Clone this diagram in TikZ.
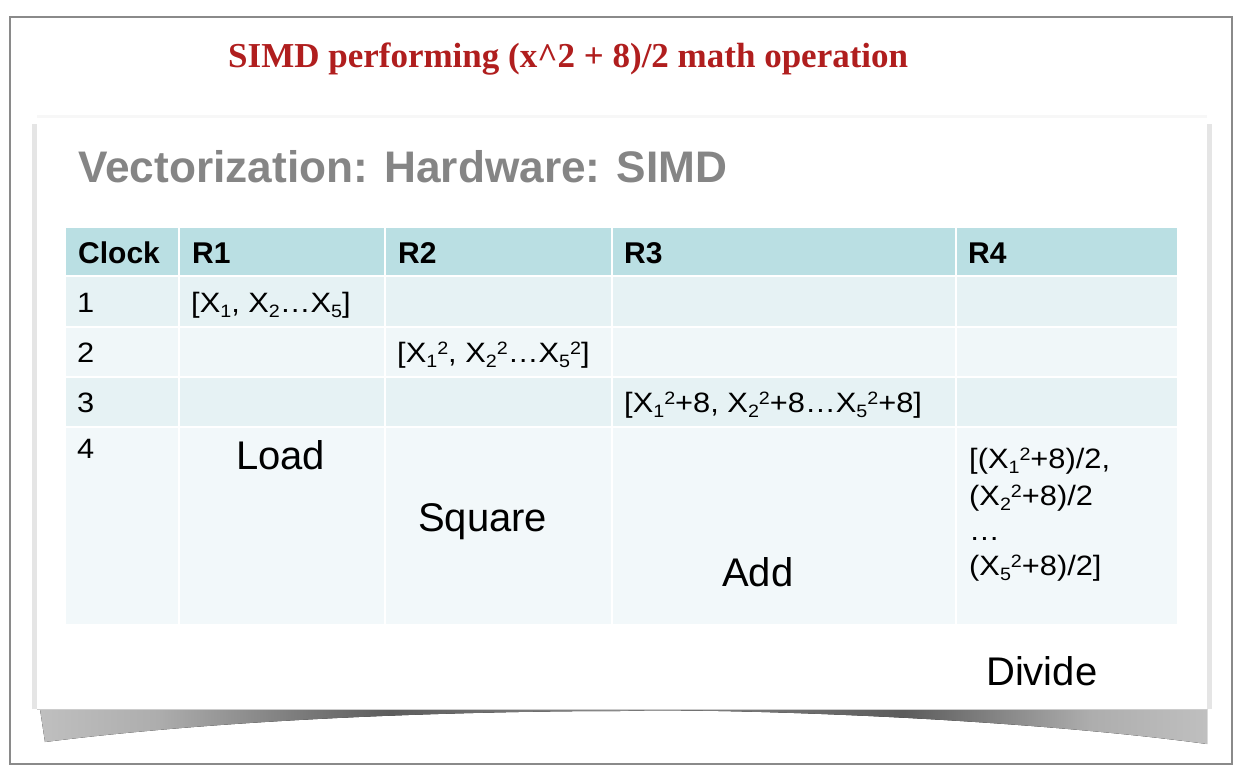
\documentclass[tikz,border=0pt]{standalone}
\usepackage{fontspec}
\usepackage{graphicx}
\setmainfont{Liberation Sans}
\newfontfamily\serifbold{Liberation Serif}
\newfontfamily\cellfont[FakeStretch=1.1]{Liberation Sans}
\definecolor{frameg}{HTML}{8A8A8A}
\definecolor{titlered}{HTML}{B01E1E}
\definecolor{titlegray}{HTML}{858585}
\definecolor{hdr}{HTML}{BADFE3}
\definecolor{rowa}{HTML}{E6F2F4}
\definecolor{rowb}{HTML}{F0F7F9}
\definecolor{rowc}{HTML}{F2F8FA}
\pgfdeclarehorizontalshading{shadowsh}{100bp}{color(0bp)=(black!25); color(25bp)=(black!25); color(30bp)=(black!32); color(40bp)=(black!64); color(50bp)=(black!45); color(62bp)=(black!64); color(70bp)=(black!32); color(75bp)=(black!25); color(100bp)=(black!25)}
\newcommand\lowsc[1]{\raisebox{-0.18em}{\scalebox{0.64}{#1}}}
\newcommand\hisc[1]{\raisebox{0.27em}{\scalebox{0.64}{#1}}}
\newcommand\sbsp[2]{\lowsc{#1}\hisc{#2}}
\tikzset{
  txt/.style={anchor=base west, inner sep=0pt, font=\cellfont\fontsize{28}{34}\selectfont},
  hdrtxt/.style={anchor=base west, inner sep=0pt, font=\fontsize{30}{34}\selectfont\bfseries},
  bigtxt/.style={anchor=base west, inner sep=0pt, font=\fontsize{40}{46}\selectfont}
}
\begin{document}
\begin{tikzpicture}[x=1pt,y=-1pt]
\useasboundingbox (0,0) rectangle (1256,780);
\fill[white] (0,0) rectangle (1256,780);
% outer frame
\draw[frameg, line width=2pt] (10,17) rectangle (1232,764);
% red title
\node[anchor=base west, inner sep=0pt, text=titlered, font=\serifbold\bfseries\fontsize{35}{40}\selectfont] (redtitle) at (228,67) {SIMD performing (x\^{}2 + 8)/2 math operation};
% slide shadow
\fill[shading=shadowsh] (40,709) -- (1207,709) -- (1207,744) .. controls (1000,716) and (700,708) .. (620,711) .. controls (500,711) and (250,716) .. (45,742) -- cycle;
\fill[black!10] (32,124) rectangle (37,709);
\fill[black!10] (1207,124) rectangle (1212,709);
\fill[black!3] (37,115) rectangle (1207,118);
% slide
\fill[white] (37,118) rectangle (1207,709);
\draw[black!20, line width=0.6pt] (37,709) -- (1207,709);
% slide title
\node[anchor=base west, inner sep=0pt, text=titlegray, font=\fontsize{44.2}{50}\selectfont\bfseries] (slidetitle) at (78,182) {Vectorization: Hardware: SIMD};
% table
\foreach \xa/\xb in {66/178,180/384,386/611,613/955,957/1177}{
  \fill[hdr] (\xa,228) rectangle (\xb,275);
  \fill[rowa] (\xa,277) rectangle (\xb,326);
  \fill[rowb] (\xa,328) rectangle (\xb,376);
  \fill[rowa] (\xa,378) rectangle (\xb,426);
  \fill[rowc] (\xa,428) rectangle (\xb,624);
}
% header texts
\node[hdrtxt] (hclock) at (78,263) {Clock};
\node[hdrtxt] (hr1) at (192,263) {R1};
\node[hdrtxt] (hr2) at (398,263) {R2};
\node[hdrtxt] (hr3) at (624,263) {R3};
\node[hdrtxt] (hr4) at (968,263) {R4};
% row numbers
\node[txt] (n1) at (77,312) {1};
\node[txt] (n2) at (77,362) {2};
\node[txt] (n3) at (77,412) {3};
\node[txt] (n4) at (77,458) {4};
% cell contents
\node[txt] (c1) at (191,312) {[X\lowsc{1}, X\lowsc{2}…X\lowsc{5}]};
\node[txt] (c2) at (397,362) {[X\sbsp{1}{2}, X\sbsp{2}{2}…X\sbsp{5}{2}]};
\node[txt] (c3) at (624,412) {[X\sbsp{1}{2}+8, X\sbsp{2}{2}+8…X\sbsp{5}{2}+8]};
\node[txt] (c4a) at (969,468) {[(X\sbsp{1}{2}+8)/2,};
\node[txt] (c4b) at (969,505) {(X\sbsp{2}{2}+8)/2};
\node[txt] (c4c) at (969,540) {…};
\node[txt] (c4d) at (969,575) {(X\sbsp{5}{2}+8)/2]};
% operation labels
\node[bigtxt] (load) at (236,469) {Load};
\node[bigtxt] (square) at (418,531) {Square};
\node[bigtxt] (add) at (722,586) {Add};
\node[bigtxt] (divide) at (986,685) {Divide};
\end{tikzpicture}
\end{document}
